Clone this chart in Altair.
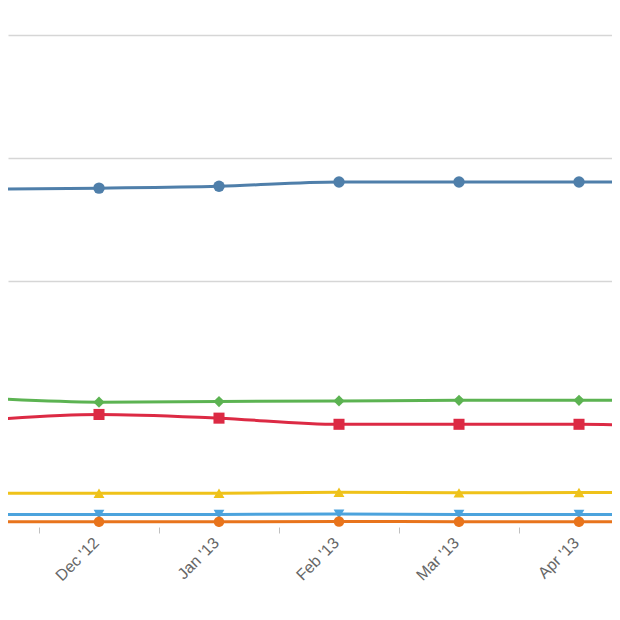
import altair as alt
import pandas as pd

# month categories (index 0..6); only Dec '12 .. Apr '13 fall inside the cropped view
months = ["Nov '12", "Dec '12", "Jan '13", "Feb '13", "Mar '13", "Apr '13", "May '13"]

series_names = ["Series 1", "Series 2", "Series 3", "Series 4", "Series 5", "Series 6"]
series_1 = [54.9, 55.1, 55.4, 56.1, 56.1, 56.1, 56.1]
series_2 = [21.0, 20.3, 20.4, 20.5, 20.6, 20.6, 20.7]
series_3 = [17.3, 18.3, 17.7, 16.7, 16.7, 16.7, 16.1]
series_4 = [5.5, 5.5, 5.5, 5.65, 5.55, 5.6, 5.6]
series_5 = [2.05, 2.05, 2.05, 2.1, 2.05, 2.05, 2.05]
series_6 = [0.85, 0.85, 0.85, 0.9, 0.85, 0.85, 0.85]

colors = ["#4f7faa", "#5cb352", "#dc2a44", "#efc21a", "#4ca3dd", "#e8741c"]
shapes = ["circle", "diamond", "square", "triangle-up", "triangle-down", "circle"]
sizes = [130, 110, 180, 150, 150, 180]

all_series = [series_1, series_2, series_3, series_4, series_5, series_6]
rows = []
for name, vals in zip(series_names, all_series):
    for i, v in enumerate(vals):
        rows.append({"idx": i, "month": months[i], "series": name, "value": v})
df = pd.DataFrame(rows)

# visible window of the month index
x_domain = [0.2417, 5.275]
label_values = [i for i in range(len(months)) if x_domain[0] <= i <= x_domain[1]]
tick_values = [i + 0.5 for i in range(len(months) - 1) if x_domain[0] <= i + 0.5 <= x_domain[1]]
label_expr = "[" + ",".join('"%s"' % m for m in months) + "][datum.value]"

x_scale = alt.Scale(domain=x_domain, nice=False, zero=False)
y_scale = alt.Scale(domain=[0, 80], nice=False)
color_scale = alt.Scale(domain=series_names, range=colors)

y_enc = alt.Y("value:Q", scale=y_scale,
              axis=alt.Axis(values=[40, 60, 80], labels=False, ticks=False, domain=False,
                            grid=True, gridColor="#d6d6d6", gridWidth=1.5, title=None))

lines = alt.Chart(df).mark_line(strokeWidth=3, interpolate="monotone", clip=True).encode(
    x=alt.X("idx:Q", scale=x_scale,
            axis=alt.Axis(values=label_values, labelExpr=label_expr, labelAngle=-45,
                          labelAlign="right", labelBaseline="middle",
                          labelFont="Liberation Sans", labelFontSize=16, labelColor="#666666",
                          labelPadding=13, labelOffset=-3, ticks=False, tickSize=0,
                          domain=False, grid=False, title=None, orient="bottom")),
    y=y_enc,
    color=alt.Color("series:N", scale=color_scale, legend=None),
    detail="series:N",
)

points = alt.Chart(df).mark_point(filled=True, opacity=1, clip=True).encode(
    x=alt.X("idx:Q", scale=x_scale,
            axis=alt.Axis(values=tick_values, labels=False, ticks=True, tickSize=6,
                          tickColor="#c0c0c0", tickWidth=1, domain=False, grid=False,
                          title=None, orient="bottom")),
    y=y_enc,
    color=alt.Color("series:N", scale=color_scale, legend=None),
    shape=alt.Shape("series:N", scale=alt.Scale(domain=series_names, range=shapes), legend=None),
    size=alt.Size("series:N", scale=alt.Scale(domain=series_names, range=sizes), legend=None),
)

chart = alt.layer(lines, points).resolve_axis(x="independent").properties(
    width=604,
    height=492,
    padding={"left": 0, "right": 0, "top": 27, "bottom": 0},
    background="white",
).configure_view(stroke=None)

chart.save("out.html", embed_options={"renderer": "svg", "actions": False})
